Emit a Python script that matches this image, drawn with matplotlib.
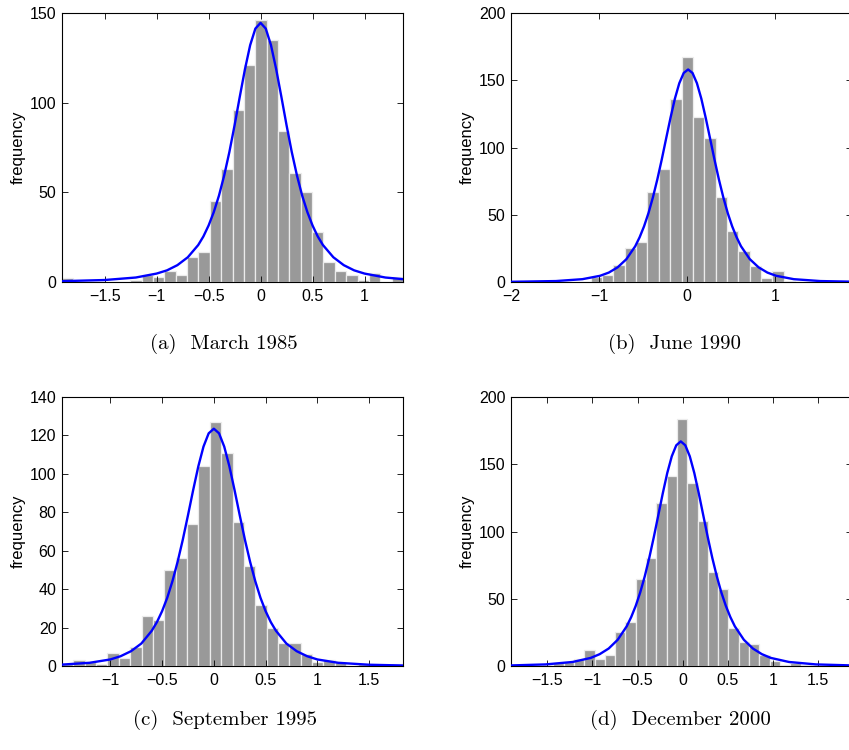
import numpy as np
import matplotlib.pyplot as plt

plt.rcParams['font.family'] = ['Liberation Sans', 'DejaVu Sans']

# histogram counts, equal-width bins over the given x range
counts_a = [2, 0, 0, 0, 0, 0, 1, 4, 3, 6, 4, 14, 17, 45, 63, 96, 121, 146, 135, 84,
            61, 50, 28, 11, 6, 4, 1, 5, 0, 3]
range_a = (-1.91, 1.37)
counts_b = [1, 0, 0, 0, 0, 0, 0, 4, 5, 13, 25, 30, 67, 84, 136, 167, 123, 107, 63, 38,
            23, 12, 3, 8, 1, 0, 0, 0, 0, 1]
range_b = (-2.0, 1.87)
counts_c = [1, 3, 2, 1, 7, 4, 10, 26, 24, 50, 56, 74, 104, 127, 111, 75, 52, 32, 20, 12,
            12, 6, 2, 3, 2, 0, 1, 0, 0, 1]
range_c = (-1.466, 1.826)
counts_d = [0, 0, 0, 1, 2, 3, 5, 12, 5, 8, 25, 33, 65, 80, 121, 141, 184, 136, 108, 70,
            57, 28, 18, 16, 8, 4, 1, 2, 1, 0, 0, 0, 0]
range_d = (-1.891, 1.881)

# fitted density (scaled to counts)
curve_x_a = [-1.91, -1.5, -1.2, -1.0, -0.9, -0.8, -0.7, -0.6, -0.55, -0.5, -0.45, -0.4, -0.35,
             -0.3, -0.25, -0.2, -0.15, -0.1, -0.05, 0.0, 0.05, 0.1, 0.15, 0.2, 0.25, 0.3,
             0.35, 0.4, 0.45, 0.5, 0.55, 0.6, 0.7, 0.8, 0.9, 1.0, 1.2, 1.37]
curve_y_a = [0.46, 1.1, 2.5, 4.7, 6.5, 9.4, 13.8, 20.6, 25.4, 31.5, 39.0, 48.2, 59.4,
             72.5, 87.4, 103.3, 118.7, 132.1, 141.3, 144.5, 141.3, 132.1, 118.7, 103.3, 87.4, 72.5,
             59.4, 48.2, 39.0, 31.5, 25.4, 20.6, 13.8, 9.4, 6.5, 4.7, 2.5, 1.6]

curve_x_b = [-2.0, -1.49, -1.19, -0.99, -0.89, -0.79, -0.69, -0.59, -0.54, -0.49, -0.44, -0.39,
             -0.34, -0.29, -0.24, -0.19, -0.14, -0.09, -0.04, 0.01, 0.06, 0.11, 0.16, 0.21,
             0.26, 0.31, 0.36, 0.41, 0.46, 0.51, 0.56, 0.61, 0.71, 0.81, 0.91, 1.01, 1.21,
             1.51, 1.87]
curve_y_b = [0.15, 0.7, 2.1, 4.6, 7.0, 10.9, 17.0, 26.6, 33.3, 41.4, 51.2, 62.8,
             76.1, 90.8, 106.5, 122.0, 136.3, 147.8, 155.4, 158.0, 155.4, 147.8, 136.3, 122.0,
             106.5, 90.8, 76.1, 62.8, 51.2, 41.4, 33.3, 26.6, 17.0, 10.9, 7.0, 4.6, 2.1,
             0.7, 0.23]

curve_x_c = [-1.47, -1.2, -1.0, -0.9, -0.8, -0.7, -0.6, -0.55, -0.5, -0.45, -0.4, -0.35, -0.3,
             -0.25, -0.2, -0.15, -0.1, -0.05, 0.0, 0.05, 0.1, 0.15, 0.2, 0.25, 0.3, 0.35, 0.4,
             0.45, 0.5, 0.55, 0.6, 0.7, 0.8, 0.9, 1.0, 1.2, 1.5, 1.83]
curve_y_c = [0.71, 1.67, 3.4, 5.1, 7.7, 11.7, 18.3, 22.8, 28.5, 35.5, 44.1, 54.2, 65.7,
             78.4, 91.5, 103.9, 114.2, 121.1, 123.5, 121.1, 114.2, 103.9, 91.5, 78.4, 65.7, 54.2, 44.1,
             35.5, 28.5, 22.8, 18.3, 11.7, 7.7, 5.1, 3.4, 1.67, 0.65, 0.26]

curve_x_d = [-1.9, -1.52, -1.22, -1.02, -0.92, -0.82, -0.72, -0.62, -0.57, -0.52, -0.47, -0.42,
             -0.37, -0.32, -0.27, -0.22, -0.17, -0.12, -0.07, -0.02, 0.03, 0.08, 0.13, 0.18,
             0.23, 0.28, 0.33, 0.38, 0.43, 0.48, 0.53, 0.58, 0.68, 0.78, 0.88, 0.98, 1.18,
             1.48, 1.88]
curve_y_d = [0.43, 1.18, 3.0, 6.0, 8.8, 13.0, 19.5, 29.5, 36.4, 44.7, 54.7, 66.6,
             80.3, 95.6, 111.9, 128.3, 143.5, 155.9, 164.1, 167.0, 164.1, 155.9, 143.5, 128.3,
             111.9, 95.6, 80.3, 66.6, 54.7, 44.7, 36.4, 29.5, 19.5, 13.0, 8.8, 6.0, 3.0,
             1.18, 0.42]

xticks_a = [-1.5, -1, -0.5, 0, 0.5, 1]
xticks_b = [-2, -1, 0, 1]
xticks_c = [-1, -0.5, 0, 0.5, 1, 1.5]
xticks_d = [-1.5, -1, -0.5, 0, 0.5, 1, 1.5]
yticks_a = [0, 50, 100, 150]
yticks_b = [0, 50, 100, 150, 200]
yticks_c = [0, 20, 40, 60, 80, 100, 120, 140]
yticks_d = [0, 50, 100, 150, 200]
xlim_a = (-1.91, 1.37)
xlim_b = (-2.0, 1.87)
xlim_c = (-1.466, 1.826)
xlim_d = (-1.904, 1.88)

captions = ['(a)  March 1985', '(b)  June 1990', '(c)  September 1995', '(d)  December 2000']

panels = [
    (counts_a, range_a, curve_x_a, curve_y_a, xticks_a, yticks_a, xlim_a),
    (counts_b, range_b, curve_x_b, curve_y_b, xticks_b, yticks_b, xlim_b),
    (counts_c, range_c, curve_x_c, curve_y_c, xticks_c, yticks_c, xlim_c),
    (counts_d, range_d, curve_x_d, curve_y_d, xticks_d, yticks_d, xlim_d),
]

W, H = 849, 750
fig = plt.figure(figsize=(W / 100, H / 100), dpi=100)

# axes boxes in pixels: left, top
boxes = [(62, 13), (511, 13), (62, 397), (511, 397)]
aw, ah = 341, 269
cap_pos = [(224, 344), (674, 344), (225, 720), (680, 720)]


def fmt(v):
    return ('%g' % v).replace('-', '\u2212')


for i, (counts, rng, cx, cy, xt, yt, xl) in enumerate(panels):
    left, top = boxes[i]
    ax = fig.add_axes([left / W, 1 - (top + ah) / H, aw / W, ah / H])
    edges = np.linspace(rng[0], rng[1], len(counts) + 1)
    ax.bar(edges[:-1], counts, width=np.diff(edges), align='edge',
           color='#999999', edgecolor='#ececec', linewidth=0.9, zorder=1)
    ax.plot(cx, cy, color='#0000ff', linewidth=1.7, zorder=3)
    ax.set_xlim(xl)
    ax.set_ylim(yt[0], yt[-1])
    ax.set_xticks(xt)
    ax.set_xticklabels([fmt(v) for v in xt])
    ax.set_yticks(yt)
    ax.set_yticklabels([fmt(v) for v in yt])
    ax.tick_params(direction='in', top=True, right=True, length=4, width=0.6,
                   labelsize=11.5, colors='black')
    ax.tick_params(axis='x', pad=5)
    ax.tick_params(axis='y', pad=4)
    for s in ax.spines.values():
        s.set_linewidth(0.8)
    ax.set_ylabel('frequency', fontsize=12, labelpad=3)
    fig.text(cap_pos[i][0] / W, 1 - cap_pos[i][1] / H, captions[i],
             fontfamily='cmr10', fontsize=15, ha='center', va='center')

fig.savefig('out.png', dpi=100)
